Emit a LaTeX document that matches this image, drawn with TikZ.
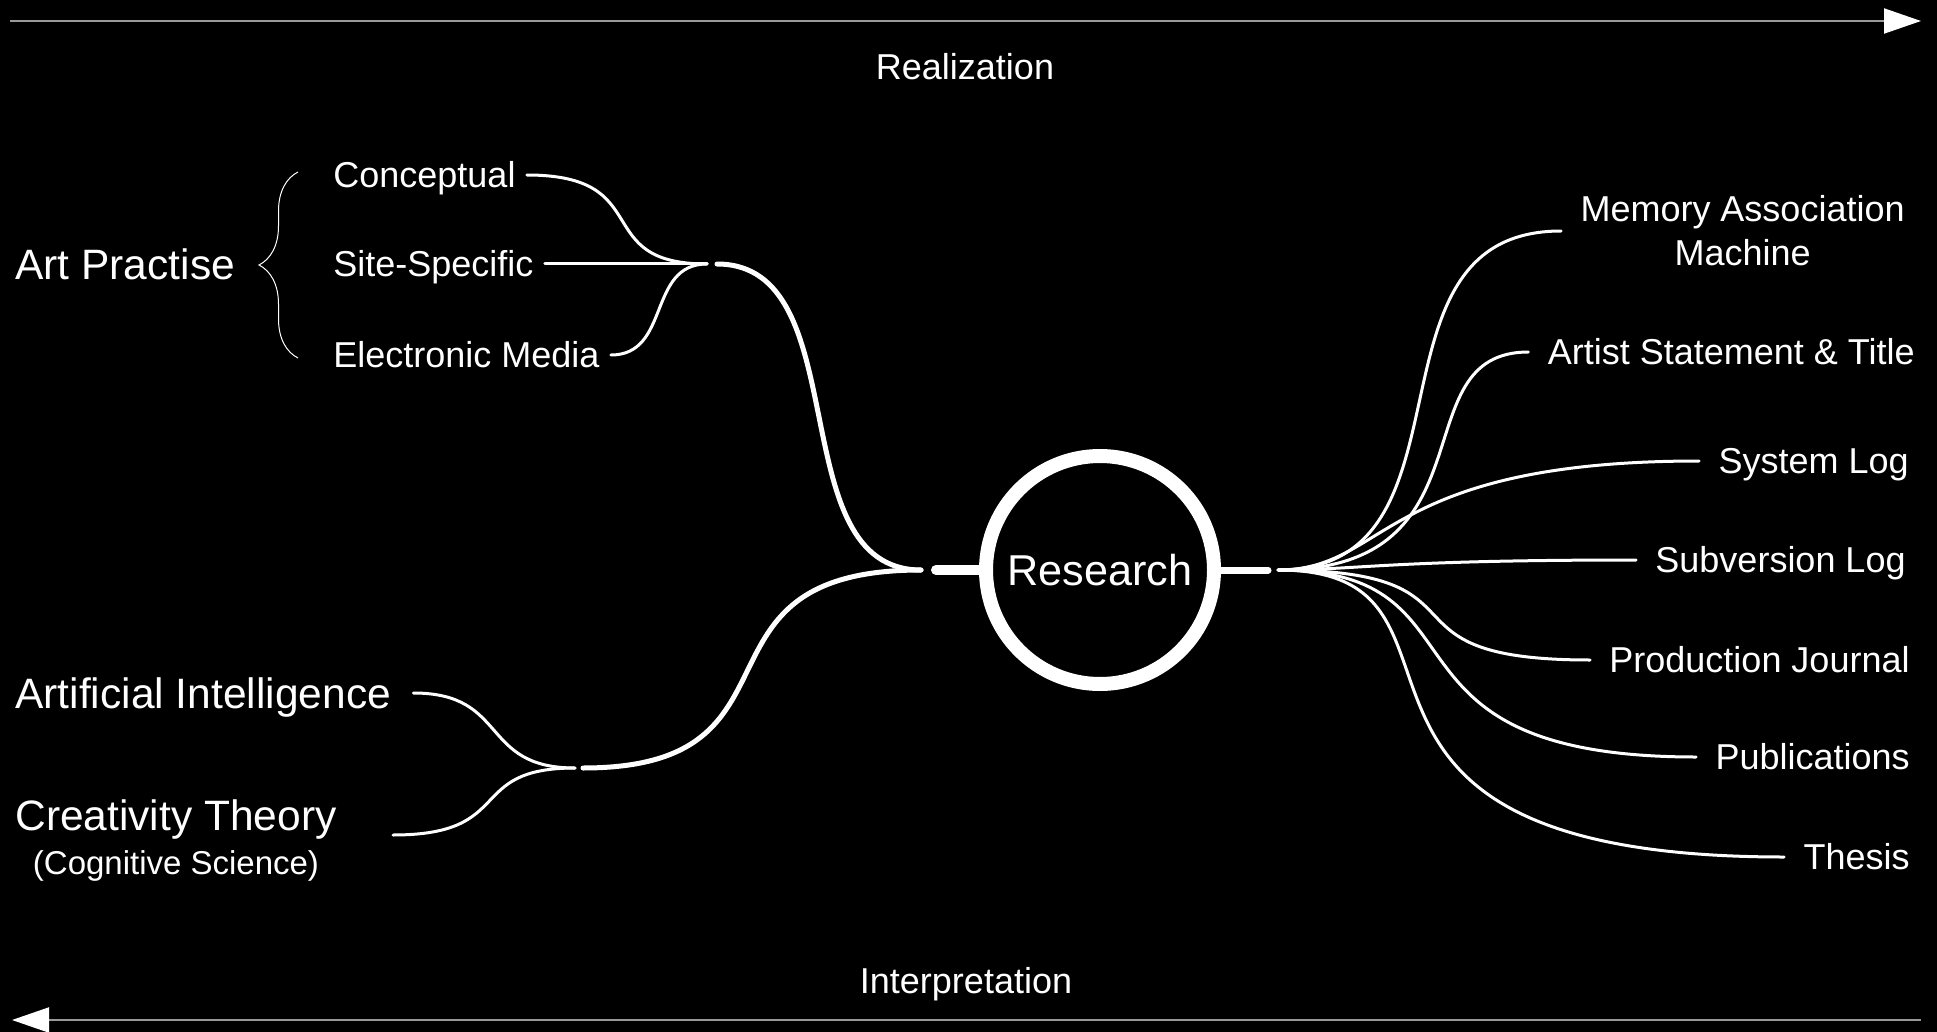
\documentclass[tikz,border=0pt]{standalone}
\usepackage{fontspec}
\setmainfont{Liberation Sans}
\usepackage{tikz}
\usetikzlibrary{arrows.meta}
\usetikzlibrary{positioning}
\usetikzlibrary{decorations.pathreplacing}
\definecolor{axisgray}{gray}{0.6}
\tikzset{
  % Common styles for the map
  >=latex,
  axis/.style={draw=axisgray, line width=1pt, -{Triangle[length=18.5pt, width=12.5pt, color=white]}},
  words/.style={text=white, inner ysep=0pt},
  branch/.style={draw=white, line width=1.5pt, line cap=round},
  trunk/.style={draw=white, line width=2.5pt, line cap=round}
}

\begin{document}
\begin{tikzpicture}[x=0.5pt, y=-0.5pt]
    % Define styles
    \tikzstyle{big} = [words, inner xsep=0pt, font=\fontsize{21.25}{26}\selectfont, text height=15.2pt, text depth=0pt]
    \tikzstyle{note} = [words, inner xsep=0pt, font=\fontsize{16.5}{20}\selectfont, text height=11.8pt, text depth=0pt]
    \tikzstyle{leaf} = [words, inner xsep=5.5pt, font=\fontsize{18}{22}\selectfont, text height=12.9pt, text depth=0pt]
    \tikzstyle{item} = [leaf, inner xsep=9.5pt]
    \tikzstyle{stub} = [draw=white, line cap=round]
    \tikzstyle{curly} = [draw=white, line width=0.5pt, decorate, decoration={brace, amplitude=19.5pt}]

    \useasboundingbox (0,0) rectangle (1937,1032);
    \fill[black] (0,0) rectangle (1937,1032);

    % Axes
    \coordinate (r0) at (10,21);
    \coordinate (r1) at (1921,21);
    \coordinate (i0) at (1921,1020);
    \coordinate (i1) at (12,1020);
    \path [axis] (r0) -- (r1);
    \path [axis] (i0) -- (i1);
    \node [leaf] (real) at (965,67) {Realization};
    \node [leaf] (interp) at (966,981) {Interpretation};

    % Place nodes
    \node [words, circle, draw=white, line width=7pt, minimum size=114pt, font=\fontsize{21.6}{26}\selectfont] (res) at (1100,570) {Research};

    \coordinate (lin) at (921,570);
    \coordinate (lhub) at (936,570);
    \coordinate (rhub) at (1268,570);
    \coordinate (rout) at (1278,570);
    \coordinate (artj) at (707,264);
    \coordinate (artk) at (717,264);
    \coordinate (aij) at (575,768);
    \coordinate (aik) at (583,768);

    \node [big, anchor=west] (art) at (15,264) {Art Practise};
    \node [leaf, anchor=west] (concept) at (322,175) {Conceptual};
    \node [leaf, anchor=west] (site) at (322,264) {Site-Specific};
    \node [leaf, anchor=west] (media) at (322,355) {Electronic Media};
    \node [big, anchor=west] (ai) at (15,693) {Artificial Intelligence};
    \node [big, anchor=west] (ct) at (15,815) {Creativity Theory};
    \node [note, below=10pt of ct] (cog) {(Cognitive Science)};

    \node [words, inner xsep=9.5pt, align=center, font=\fontsize{18}{22}\selectfont, anchor=east] (mem) at (1924,231) {Memory Association\\Machine};
    \node [item, anchor=east] (artist) at (1934,352) {Artist Statement \& Title};
    \node [item, anchor=east] (syslog) at (1928,461) {System Log};
    \node [item, anchor=east] (svn) at (1925,560) {Subversion Log};
    \node [item, anchor=east] (journal) at (1929,660) {Production Journal};
    \node [item, anchor=east] (pubs) at (1929,757) {Publications};
    \node [item, anchor=east] (thesis) at (1929,857) {Thesis};

    \path [curly] (298,358) -- (298,172);

    % Draw edges
    \path [branch] (concept.east) .. controls +(131,0) and +(-119,0) .. (artj);
    \path [branch] (site.east) -- (artj);
    \path [branch] (media.east) .. controls +(60,0) and +(-60,0) .. (artj);
    \path [trunk] (artk) .. controls +(142,0) and +(-142,0) .. (lin);
    \path [branch] ([xshift=11pt]ai.east) .. controls +(96,0) and +(-96,0) .. (aij);
    \path [branch] ([xshift=28pt,yshift=-10pt]ct.east) .. controls +(124,0) and +(-111,0) .. (aij);
    \path [trunk] (aik) .. controls +(236,0) and +(-246,0) .. (lin);
    \path [stub, line width=5pt] (lhub) -- (res);
    \path [stub, line width=3.5pt] (res) -- (rhub);
    \path [branch] (rout) .. controls +(209,0) and +(-209,0) .. (mem.west);
    \path [branch] (rout) .. controls +(220,0) and +(-130,0) .. (artist.west);
    \path [branch] (rout) .. controls +(110,0) and +(-320,0) .. (syslog.west);
    \path [branch] (rout) .. controls +(80,0) and +(-250,0) .. (svn.west);
    \path [branch] (rout) .. controls +(226,0) and +(-226,0) .. (journal.west);
    \path [branch] (rout) .. controls +(221,0) and +(-338,0) .. (pubs.west);
    \path [branch] (rout) .. controls +(234,0) and +(-522,0) .. (thesis.west);
\end{tikzpicture}
\end{document}
